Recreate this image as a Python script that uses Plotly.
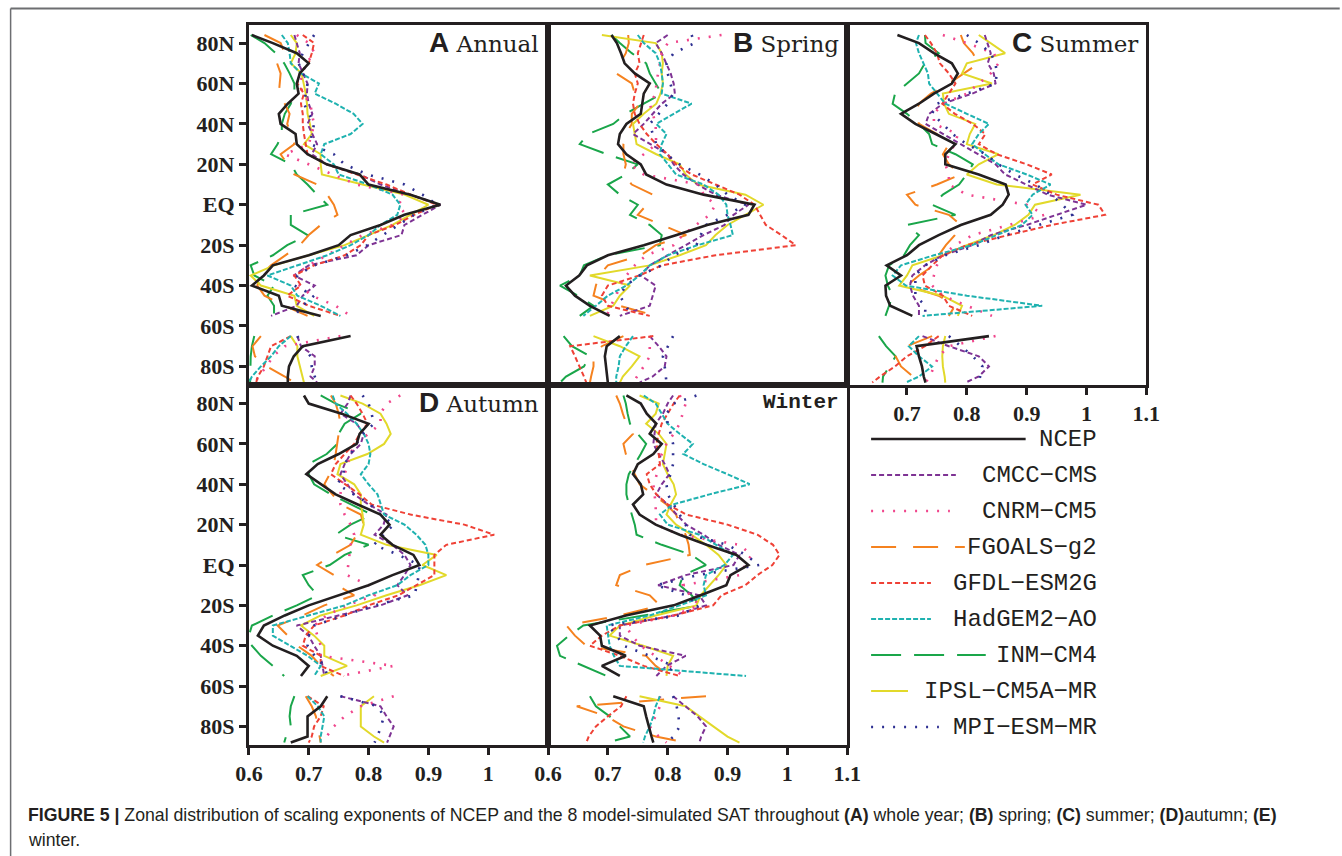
import plotly.graph_objects as go

# ---------------- data ----------------
# latitude grid (north segment 84N..55S, gap, south segment 65S..88S)
LATS = [84, 80, 75, 70, 65, 60, 55, 50, 45, 40, 35, 30, 25, 20, 15, 10, 5, 0,
        -5, -10, -15, -20, -25, -30, -35, -40, -45, -50, -55,
        -65, -70, -75, -80, -85, -88]
N_NORTH = 29

MODELS = ["NCEP", "CMCC\u2212CMS", "CNRM\u2212CM5", "FGOALS\u2212g2", "GFDL\u2212ESM2G",
          "HadGEM2\u2212AO", "INM\u2212CM4", "IPSL\u2212CM5A\u2212MR", "MPI\u2212ESM\u2212MR"]

Y_TICKS = [80, 60, 40, 20, 0, -20, -40, -60, -80]
Y_LABELS = ["80N", "60N", "40N", "20N", "EQ", "20S", "40S", "60S", "80S"]
X_TICKS = [0.6, 0.7, 0.8, 0.9, 1.0, 1.1]
X_LABELS = ["0.6", "0.7", "0.8", "0.9", "1", "1.1"]

# Panel A: Annual
A_NCEP = [0.605, 0.64, 0.68, 0.70, 0.685, 0.68, 0.683, 0.665, 0.65, 0.653, 0.678, 0.68, 0.698, 0.73, 0.785, 0.80, 0.87, 0.92, 0.86, 0.82, 0.77, 0.75, 0.70, 0.64, 0.625, 0.605, 0.65, 0.655, 0.72,
          0.77, 0.69, 0.675, 0.667, 0.665, 0.665]
A_CMCC = [0.676, 0.68, 0.685, 0.683, 0.69, 0.698, 0.697, 0.70, 0.706, 0.698, 0.706, 0.714, 0.705, 0.73, 0.785, 0.82, 0.87, 0.92, 0.89, 0.86, 0.855, 0.80, 0.78, 0.70, 0.675, 0.71, 0.69, 0.68, 0.637,
          0.681, 0.687, 0.71, 0.71, 0.703, 0.714]
A_CNRM = [0.68, 0.70, 0.71, 0.695, 0.69, 0.685, 0.69, 0.703, 0.705, 0.709, 0.705, 0.70, 0.66, 0.70, 0.74, 0.78, 0.86, 0.85, 0.862, 0.84, 0.79, 0.76, 0.73, 0.70, 0.676, 0.685, 0.705, 0.745, 0.77,
          0.753, 0.66, 0.64, 0.63, 0.615, 0.612]
A_FGOALS = [0.626, 0.653, 0.66, 0.647, 0.653, 0.652, 0.65, 0.66, 0.668, 0.664, 0.67, 0.676, 0.653, 0.665, 0.676, 0.714, 0.731, 0.742, 0.748, 0.72, 0.70, 0.685, 0.66, 0.637, 0.62, 0.614, 0.626, 0.66, 0.698,
            0.62, 0.606, 0.61, 0.63, 0.66, 0.676]
A_GFDL = [0.69, 0.709, 0.705, 0.70, 0.685, 0.681, 0.692, 0.687, 0.69, 0.69, 0.692, 0.695, 0.698, 0.73, 0.78, 0.83, 0.87, 0.915, 0.876, 0.845, 0.80, 0.787, 0.76, 0.709, 0.676, 0.687, 0.664, 0.70, 0.753,
          0.67, 0.637, 0.631, 0.625, 0.615, 0.612]
A_HADGEM = [0.655, 0.665, 0.668, 0.67, 0.687, 0.717, 0.71, 0.745, 0.775, 0.79, 0.77, 0.726, 0.72, 0.742, 0.75, 0.80, 0.84, 0.853, 0.848, 0.82, 0.80, 0.77, 0.731, 0.68, 0.631, 0.67, 0.681, 0.72, 0.753,
            0.67, 0.65, 0.637, 0.62, 0.605, 0.60]
A_INM = [0.603, 0.626, 0.645, 0.659, 0.668, 0.676, 0.676, 0.67, 0.66, 0.655, 0.655, 0.648, 0.637, 0.67, 0.68, 0.698, 0.714, 0.731, 0.67, 0.67, 0.698, 0.664, 0.64, 0.603, 0.609, 0.642, 0.631, 0.642, 0.642,
         0.609, 0.605, 0.603, 0.603, 0.602, 0.602]
A_IPSL = [0.67, 0.68, 0.678, 0.67, 0.688, 0.692, 0.695, 0.697, 0.698, 0.702, 0.705, 0.692, 0.72, 0.72, 0.722, 0.79, 0.86, 0.90, 0.87, 0.84, 0.80, 0.76, 0.70, 0.642, 0.603, 0.62, 0.676, 0.68, 0.709,
          0.67, 0.681, 0.681, 0.685, 0.69, 0.692]
A_MPI = [0.709, 0.70, 0.69, 0.683, 0.69, 0.698, 0.695, 0.692, 0.70, 0.709, 0.705, 0.703, 0.742, 0.76, 0.798, 0.86, 0.89, 0.915, 0.876, 0.85, 0.825, 0.798, 0.764, 0.709, 0.681, 0.676, 0.709, 0.69, 0.676,
         0.681, 0.69, 0.703, 0.705, 0.71, 0.714]

# Panel B: Spring
B_NCEP = [0.706, 0.715, 0.722, 0.728, 0.745, 0.77, 0.76, 0.758, 0.755, 0.731, 0.72, 0.717, 0.731, 0.755, 0.764, 0.798, 0.86, 0.945, 0.935, 0.866, 0.815, 0.76, 0.70, 0.665, 0.652, 0.63, 0.645, 0.67, 0.703,
          0.72, 0.698, 0.695, 0.697, 0.70, 0.70]
B_CMCC = [0.80, 0.78, 0.79, 0.798, 0.805, 0.81, 0.812, 0.79, 0.775, 0.76, 0.742, 0.77, 0.80, 0.81, 0.826, 0.85, 0.88, 0.935, 0.91, 0.895, 0.86, 0.83, 0.80, 0.77, 0.755, 0.78, 0.775, 0.77, 0.72,
          0.77, 0.785, 0.798, 0.795, 0.775, 0.753]
B_CNRM = [0.89, 0.80, 0.79, 0.787, 0.785, 0.781, 0.78, 0.77, 0.775, 0.78, 0.78, 0.781, 0.76, 0.737, 0.76, 0.853, 0.86, 0.88, 0.87, 0.848, 0.825, 0.81, 0.764, 0.745, 0.731, 0.72, 0.714, 0.705, 0.698,
          0.77, 0.77, 0.77, 0.76, 0.748, 0.742]
B_FGOALS = [0.734, 0.735, 0.73, 0.72, 0.714, 0.74, 0.745, 0.753, 0.74, 0.74, 0.73, 0.726, 0.726, 0.73, 0.726, 0.74, 0.775, 0.765, 0.75, 0.79, 0.831, 0.78, 0.755, 0.70, 0.685, 0.68, 0.676, 0.72, 0.781,
            0.726, 0.69, 0.676, 0.676, 0.672, 0.67]
B_GFDL = [0.76, 0.755, 0.75, 0.753, 0.745, 0.75, 0.745, 0.742, 0.745, 0.753, 0.765, 0.781, 0.80, 0.814, 0.84, 0.88, 0.92, 0.945, 0.955, 0.964, 0.99, 1.014, 0.88, 0.79, 0.753, 0.70, 0.69, 0.70, 0.77,
          0.776, 0.637, 0.645, 0.653, 0.66, 0.664]
B_HADGEM = [0.75, 0.76, 0.78, 0.787, 0.79, 0.792, 0.79, 0.84, 0.81, 0.781, 0.798, 0.79, 0.787, 0.80, 0.814, 0.86, 0.885, 0.898, 0.90, 0.905, 0.909, 0.85, 0.80, 0.77, 0.753, 0.731, 0.70, 0.68, 0.659,
            0.742, 0.73, 0.72, 0.718, 0.714, 0.714]
B_INM = [0.706, 0.72, 0.74, 0.764, 0.77, 0.78, 0.79, 0.76, 0.73, 0.709, 0.667, 0.653, 0.698, 0.75, 0.73, 0.70, 0.72, 0.75, 0.737, 0.77, 0.79, 0.787, 0.70, 0.66, 0.653, 0.62, 0.65, 0.676, 0.653,
         0.626, 0.64, 0.67, 0.66, 0.63, 0.62]
B_IPSL = [0.69, 0.78, 0.79, 0.792, 0.79, 0.792, 0.788, 0.781, 0.76, 0.742, 0.745, 0.748, 0.781, 0.82, 0.83, 0.85, 0.93, 0.96, 0.93, 0.90, 0.88, 0.864, 0.82, 0.77, 0.67, 0.737, 0.72, 0.709, 0.67,
          0.676, 0.72, 0.753, 0.74, 0.725, 0.72]
B_MPI = [0.84, 0.845, 0.81, 0.798, 0.80, 0.805, 0.809, 0.80, 0.785, 0.77, 0.775, 0.781, 0.798, 0.82, 0.853, 0.88, 0.90, 0.93, 0.90, 0.864, 0.855, 0.848, 0.81, 0.79, 0.753, 0.73, 0.72, 0.73, 0.74,
         0.809, 0.80, 0.792, 0.795, 0.797, 0.798]

# Panel C: Summer
C_NCEP = [0.684, 0.72, 0.745, 0.775, 0.785, 0.775, 0.745, 0.72, 0.69, 0.714, 0.748, 0.781, 0.764, 0.764, 0.82, 0.865, 0.87, 0.86, 0.84, 0.79, 0.753, 0.72, 0.70, 0.666, 0.69, 0.664, 0.665, 0.672, 0.709,
          0.837, 0.716, 0.72, 0.725, 0.728, 0.731]
C_CMCC = [0.83, 0.835, 0.84, 0.835, 0.845, 0.848, 0.809, 0.76, 0.737, 0.731, 0.76, 0.79, 0.82, 0.848, 0.864, 0.90, 0.935, 1.0, 0.95, 0.90, 0.84, 0.809, 0.76, 0.73, 0.709, 0.705, 0.71, 0.72, 0.72,
          0.726, 0.77, 0.82, 0.837, 0.82, 0.798]
C_CNRM = [0.76, 0.80, 0.845, 0.853, 0.84, 0.82, 0.80, 0.76, 0.745, 0.745, 0.785, 0.78, 0.77, 0.764, 0.77, 0.77, 0.80, 0.90, 0.93, 0.87, 0.81, 0.78, 0.76, 0.75, 0.745, 0.742, 0.76, 0.80, 0.842,
          0.848, 0.77, 0.753, 0.745, 0.738, 0.731]
C_FGOALS = [0.79, 0.795, 0.81, 0.82, 0.795, 0.77, 0.74, 0.72, 0.714, 0.72, 0.75, 0.77, 0.76, 0.77, 0.79, 0.75, 0.70, 0.714, 0.77, 0.79, 0.78, 0.765, 0.753, 0.745, 0.72, 0.70, 0.753, 0.78, 0.77,
            0.742, 0.70, 0.681, 0.69, 0.71, 0.72]
C_GFDL = [0.73, 0.74, 0.75, 0.755, 0.77, 0.781, 0.77, 0.759, 0.78, 0.81, 0.831, 0.82, 0.85, 0.90, 0.942, 0.91, 0.95, 1.02, 1.031, 0.942, 0.87, 0.80, 0.76, 0.742, 0.726, 0.73, 0.76, 0.77, 0.809,
          0.753, 0.73, 0.70, 0.68, 0.655, 0.642]
C_HADGEM = [0.72, 0.715, 0.72, 0.728, 0.735, 0.737, 0.75, 0.764, 0.80, 0.837, 0.82, 0.809, 0.83, 0.853, 0.90, 0.94, 0.91, 0.898, 0.91, 0.892, 0.85, 0.809, 0.745, 0.69, 0.676, 0.698, 0.80, 0.926, 0.726,
            0.72, 0.703, 0.72, 0.742, 0.72, 0.698]
C_INM = [0.73, 0.731, 0.753, 0.73, 0.72, 0.70, 0.68, 0.676, 0.70, 0.72, 0.737, 0.742, 0.781, 0.81, 0.80, 0.787, 0.76, 0.742, 0.781, 0.70, 0.72, 0.705, 0.695, 0.67, 0.664, 0.668, 0.676, 0.67, 0.664,
         0.653, 0.665, 0.681, 0.67, 0.66, 0.659]
C_IPSL = [0.82, 0.84, 0.864, 0.80, 0.792, 0.842, 0.76, 0.762, 0.77, 0.814, 0.805, 0.80, 0.853, 0.82, 0.80, 0.85, 0.99, 0.914, 0.903, 0.88, 0.845, 0.80, 0.76, 0.709, 0.70, 0.687, 0.759, 0.792, 0.785,
          0.764, 0.76, 0.759, 0.76, 0.763, 0.764]
C_MPI = [0.80, 0.82, 0.84, 0.848, 0.85, 0.848, 0.80, 0.75, 0.742, 0.76, 0.776, 0.80, 0.831, 0.853, 0.88, 0.915, 0.94, 0.96, 0.976, 0.92, 0.865, 0.82, 0.764, 0.73, 0.714, 0.714, 0.714, 0.731, 0.73,
         0.77, 0.79, 0.81, 0.826, 0.822, 0.82]

# Panel D: Autumn
D_NCEP = [0.692, 0.70, 0.755, 0.80, 0.785, 0.78, 0.75, 0.715, 0.696, 0.72, 0.745, 0.782, 0.82, 0.835, 0.82, 0.84, 0.875, 0.885, 0.84, 0.80, 0.75, 0.70, 0.66, 0.625, 0.615, 0.64, 0.68, 0.70, 0.687,
          0.731, 0.72, 0.698, 0.698, 0.698, 0.67]
D_CMCC = [0.77, 0.765, 0.753, 0.78, 0.792, 0.787, 0.77, 0.76, 0.753, 0.765, 0.776, 0.80, 0.83, 0.825, 0.81, 0.84, 0.86, 0.87, 0.86, 0.848, 0.865, 0.82, 0.75, 0.68, 0.70, 0.709, 0.72, 0.723, 0.726,
          0.753, 0.82, 0.83, 0.842, 0.835, 0.831]
D_CNRM = [0.853, 0.83, 0.82, 0.82, 0.80, 0.776, 0.77, 0.765, 0.76, 0.755, 0.753, 0.753, 0.76, 0.77, 0.776, 0.77, 0.768, 0.766, 0.764, 0.80, 0.81, 0.764, 0.73, 0.709, 0.715, 0.72, 0.72, 0.842, 0.753,
          0.842, 0.787, 0.76, 0.742, 0.73, 0.726]
D_FGOALS = [0.737, 0.745, 0.75, 0.753, 0.75, 0.748, 0.745, 0.742, 0.735, 0.726, 0.74, 0.753, 0.787, 0.792, 0.78, 0.77, 0.74, 0.714, 0.742, 0.748, 0.776, 0.726, 0.69, 0.648, 0.665, 0.681, 0.705, 0.72, 0.742,
            0.695, 0.705, 0.712, 0.715, 0.718, 0.72]
D_GFDL = [0.77, 0.78, 0.79, 0.798, 0.785, 0.776, 0.76, 0.745, 0.737, 0.76, 0.785, 0.805, 0.87, 0.96, 1.01, 0.93, 0.91, 0.91, 0.91, 0.88, 0.85, 0.80, 0.76, 0.709, 0.695, 0.69, 0.72, 0.72, 0.759,
          0.698, 0.725, 0.72, 0.709, 0.705, 0.70]
D_HADGEM = [0.74, 0.745, 0.764, 0.78, 0.792, 0.80, 0.803, 0.80, 0.787, 0.80, 0.815, 0.82, 0.826, 0.86, 0.88, 0.895, 0.90, 0.90, 0.87, 0.848, 0.80, 0.76, 0.70, 0.64, 0.64, 0.67, 0.698, 0.72, 0.709,
            0.698, 0.715, 0.726, 0.723, 0.72, 0.72]
D_INM = [0.72, 0.745, 0.787, 0.76, 0.75, 0.748, 0.73, 0.70, 0.70, 0.709, 0.737, 0.77, 0.805, 0.77, 0.745, 0.80, 0.76, 0.735, 0.69, 0.70, 0.715, 0.68, 0.64, 0.605, 0.60, 0.605, 0.62, 0.64, 0.659,
         0.676, 0.67, 0.668, 0.67, 0.662, 0.659]
D_IPSL = [0.753, 0.79, 0.82, 0.83, 0.837, 0.826, 0.798, 0.753, 0.748, 0.776, 0.787, 0.787, 0.79, 0.792, 0.787, 0.83, 0.914, 0.89, 0.93, 0.885, 0.83, 0.78, 0.72, 0.687, 0.709, 0.726, 0.726, 0.764, 0.72,
          0.809, 0.787, 0.787, 0.787, 0.809, 0.826]
D_MPI = [0.79, 0.80, 0.805, 0.809, 0.79, 0.78, 0.77, 0.76, 0.758, 0.748, 0.775, 0.803, 0.82, 0.842, 0.825, 0.809, 0.85, 0.885, 0.884, 0.881, 0.877, 0.81, 0.76, 0.709, 0.70, 0.698, 0.71, 0.726, 0.731,
         0.753, 0.815, 0.826, 0.82, 0.815, 0.81]

# Panel E: Winter
E_NCEP = [0.731, 0.755, 0.765, 0.781, 0.77, 0.79, 0.776, 0.75, 0.742, 0.755, 0.759, 0.742, 0.753, 0.78, 0.82, 0.865, 0.915, 0.935, 0.905, 0.898, 0.855, 0.81, 0.73, 0.67, 0.687, 0.69, 0.73, 0.69, 0.72,
          0.709, 0.76, 0.764, 0.768, 0.773, 0.776]
E_CMCC = [0.809, 0.80, 0.792, 0.78, 0.778, 0.776, 0.785, 0.795, 0.803, 0.79, 0.781, 0.80, 0.815, 0.831, 0.86, 0.885, 0.92, 0.91, 0.83, 0.784, 0.853, 0.864, 0.81, 0.72, 0.72, 0.753, 0.83, 0.798, 0.781,
          0.809, 0.83, 0.85, 0.864, 0.856, 0.853]
E_CNRM = [0.82, 0.83, 0.825, 0.82, 0.81, 0.798, 0.79, 0.787, 0.782, 0.776, 0.778, 0.78, 0.78, 0.781, 0.82, 0.92, 0.94, 0.93, 0.92, 0.826, 0.837, 0.853, 0.81, 0.73, 0.74, 0.755, 0.78, 0.803, 0.826,
          0.787, 0.787, 0.78, 0.77, 0.785, 0.798]
E_FGOALS = [0.714, 0.72, 0.725, 0.731, 0.742, 0.726, 0.73, 0.737, 0.745, 0.753, 0.775, 0.798, 0.814, 0.82, 0.83, 0.835, 0.837, 0.76, 0.72, 0.714, 0.77, 0.787, 0.72, 0.631, 0.645, 0.664, 0.764, 0.78, 0.803,
            0.864, 0.648, 0.698, 0.726, 0.78, 0.831]
E_GFDL = [0.82, 0.81, 0.80, 0.79, 0.785, 0.781, 0.785, 0.787, 0.765, 0.77, 0.781, 0.80, 0.831, 0.90, 0.95, 0.976, 0.987, 0.975, 0.95, 0.93, 0.89, 0.876, 0.81, 0.72, 0.69, 0.67, 0.72, 0.76, 0.82,
          0.731, 0.722, 0.70, 0.68, 0.668, 0.664]
E_HADGEM = [0.76, 0.78, 0.79, 0.80, 0.82, 0.842, 0.826, 0.86, 0.90, 0.937, 0.87, 0.809, 0.787, 0.80, 0.853, 0.88, 0.909, 0.895, 0.864, 0.86, 0.864, 0.82, 0.77, 0.698, 0.70, 0.703, 0.71, 0.72, 0.931,
            0.787, 0.78, 0.776, 0.77, 0.762, 0.759]
E_INM = [0.726, 0.73, 0.733, 0.737, 0.75, 0.764, 0.755, 0.745, 0.735, 0.731, 0.731, 0.735, 0.74, 0.745, 0.748, 0.79, 0.84, 0.864, 0.826, 0.82, 0.84, 0.853, 0.76, 0.659, 0.635, 0.615, 0.62, 0.66, 0.698,
         0.67, 0.68, 0.703, 0.72, 0.737, 0.698]
E_IPSL = [0.753, 0.785, 0.78, 0.764, 0.785, 0.798, 0.795, 0.792, 0.80, 0.81, 0.814, 0.805, 0.798, 0.814, 0.84, 0.864, 0.885, 0.898, 0.885, 0.87, 0.855, 0.848, 0.78, 0.72, 0.703, 0.759, 0.809, 0.80, 0.798,
          0.753, 0.83, 0.853, 0.876, 0.90, 0.92]
E_MPI = [0.848, 0.81, 0.798, 0.80, 0.805, 0.809, 0.809, 0.809, 0.805, 0.798, 0.80, 0.81, 0.82, 0.83, 0.837, 0.90, 0.93, 0.953, 0.85, 0.781, 0.83, 0.853, 0.82, 0.70, 0.715, 0.726, 0.77, 0.809, 0.798,
         0.809, 0.815, 0.818, 0.82, 0.81, 0.798]

PANEL_DATA = {
    "A": [A_NCEP, A_CMCC, A_CNRM, A_FGOALS, A_GFDL, A_HADGEM, A_INM, A_IPSL, A_MPI],
    "B": [B_NCEP, B_CMCC, B_CNRM, B_FGOALS, B_GFDL, B_HADGEM, B_INM, B_IPSL, B_MPI],
    "C": [C_NCEP, C_CMCC, C_CNRM, C_FGOALS, C_GFDL, C_HADGEM, C_INM, C_IPSL, C_MPI],
    "D": [D_NCEP, D_CMCC, D_CNRM, D_FGOALS, D_GFDL, D_HADGEM, D_INM, D_IPSL, D_MPI],
    "E": [E_NCEP, E_CMCC, E_CNRM, E_FGOALS, E_GFDL, E_HADGEM, E_INM, E_IPSL, E_MPI],
}

# ---------------- styles ----------------
INK = "#231f20"
STYLES = [
    dict(color=INK, width=2.6, dash="solid"),          # NCEP
    dict(color="#7e3394", width=2.0, dash="5px,3px"),  # CMCC
    dict(color="#f0468c", width=2.6, dash="2px,9px"),  # CNRM
    dict(color="#f5821f", width=2.0, dash="25px,17px"),# FGOALS
    dict(color="#ef4136", width=2.0, dash="5px,3px"),  # GFDL
    dict(color="#1fb2b0", width=2.0, dash="5px,2px"),  # HadGEM
    dict(color="#1aa64a", width=2.0, dash="30px,13px"),# INM
    dict(color="#e2d92a", width=2.0, dash="solid"),    # IPSL
    dict(color="#2e3092", width=2.6, dash="2px,9px"),  # MPI
]
DRAW_ORDER = [6, 3, 7, 1, 2, 4, 5, 8, 0]

W, H = 1342, 856
# horizontal calibration measured from a previous render of this page
SX, OX = 0.982, 12.4
def px(x): return ((x - OX) / SX) / W
def py(y): return 1 - y / H

PANELS = {
    # name: (x0, x1, y_top, y_bottom, show_left, bottom_ticks)
    "A": (248, 548, 24.5, 385, True, None),
    "B": (548, 848, 24.5, 385, False, None),
    "C": (848, 1148, 24.5, 385, False, [0.7, 0.8, 0.9, 1.0, 1.1]),
    "D": (248, 548, 385, 745, True, [0.6, 0.7, 0.8, 0.9, 1.0]),
    "E": (548, 848, 385, 745, False, [0.6, 0.7, 0.8, 0.9, 1.0, 1.1]),
}

fig = go.Figure()
tick_font = dict(family="Liberation Serif", size=22, color=INK, weight="bold")

def with_gap(vals):
    return vals[:N_NORTH] + [None] + vals[N_NORTH:]

lat_gap = with_gap(LATS)

for i, (name, (x0, x1, yt, yb, show_left, bticks)) in enumerate(PANELS.items()):
    idx = "" if i == 0 else str(i + 1)
    xa, ya = "x" + idx, "y" + idx
    for k in DRAW_ORDER:
        st = STYLES[k]
        fig.add_trace(go.Scatter(
            x=with_gap(PANEL_DATA[name][k]), y=lat_gap, xaxis=xa, yaxis=ya,
            mode="lines", line=dict(color=st["color"], width=st["width"], dash=st["dash"]),
            connectgaps=False, showlegend=False, hoverinfo="skip"))
    xkw = dict(domain=[px(x0), px(x1)], range=[0.6, 1.1], anchor=ya,
               showline=True, linewidth=3, linecolor=INK, mirror=True,
               showgrid=False, zeroline=False, tickfont=tick_font)
    if bticks:
        xkw.update(tickmode="array", tickvals=bticks,
                   ticktext=[X_LABELS[X_TICKS.index(t)] for t in bticks],
                   ticks="outside", ticklen=7, tickwidth=2.5, tickcolor=INK)
    else:
        xkw.update(showticklabels=False, ticks="")
    ykw = dict(domain=[py(yb), py(yt)], range=[-89.2, 89.2], anchor=xa,
               showline=True, linewidth=3, linecolor=INK, mirror=True,
               showgrid=False, zeroline=False, tickfont=tick_font)
    if show_left:
        ykw.update(tickmode="array", tickvals=Y_TICKS, ticktext=Y_LABELS,
                   ticks="outside", ticklen=7, tickwidth=2.5, tickcolor=INK)
    else:
        ykw.update(showticklabels=False, ticks="")
    fig.layout["xaxis" + idx] = xkw
    fig.layout["yaxis" + idx] = ykw

annotations = []
TITLES = {
    "A": (541, 42, "Annual"),
    "B": (842, 42, "Spring"),
    "C": (1142, 42, "Summer"),
    "D": (541, 403, "Autumn"),
}
for letter, (xr, yc, word) in TITLES.items():
    annotations.append(dict(
        xref="paper", yref="paper", x=px(xr), y=py(yc), xanchor="right", yanchor="middle",
        showarrow=False,
        text=('<span style="font-family:Liberation Sans;font-size:28px;font-weight:bold">'
              + letter + '</span> ' + word),
        font=dict(family="DejaVu Serif", size=23, color=INK)))
annotations.append(dict(
    xref="paper", yref="paper", x=px(842), y=py(403), xanchor="right", yanchor="middle",
    showarrow=False, text="Winter",
    font=dict(family="Liberation Mono", size=21, color=INK, weight="bold")))

# legend (drawn manually, right-aligned text)
LEG_Y = [439, 475, 511, 547, 583, 619, 655, 691, 727]
LEG_END = [1027, 957, 951, 966, 932, 932, 987, 909, 940]
shapes = []
for k, name in enumerate(MODELS):
    st = STYLES[k]
    shapes.append(dict(type="line", xref="paper", yref="paper",
                       x0=px(872), x1=px(LEG_END[k]), y0=py(LEG_Y[k]), y1=py(LEG_Y[k]),
                       line=dict(color=st["color"], width=st["width"], dash=st["dash"])))
    annotations.append(dict(xref="paper", yref="paper", x=px(1101), y=py(LEG_Y[k]),
                            xanchor="right", yanchor="middle", showarrow=False, text=name,
                            font=dict(family="Liberation Mono", size=24, color=INK)))

# outer frame lines
shapes.append(dict(type="line", xref="paper", yref="paper", x0=px(9), x1=px(1342), y0=py(8.5), y1=py(8.5),
                   line=dict(color="#6d6e71", width=2)))
shapes.append(dict(type="line", xref="paper", yref="paper", x0=px(9), x1=px(9), y0=py(8.5), y1=0,
                   line=dict(color="#6d6e71", width=1.5)))

# caption
annotations.append(dict(
    xref="paper", yref="paper", x=px(24), y=py(815), xanchor="left", yanchor="middle",
    showarrow=False, align="left",
    text=("<b>FIGURE 5 |</b> Zonal distribution of scaling exponents of NCEP and the 8 model-simulated "
          "SAT throughout <b>(A)</b> whole year; <b>(B)</b> spring; <b>(C)</b> summer; "
          "<b>(D)</b>autumn; <b>(E)</b>"),
    font=dict(family="Liberation Sans", size=17.7, color=INK)))
annotations.append(dict(
    xref="paper", yref="paper", x=px(24), y=py(840), xanchor="left", yanchor="middle",
    showarrow=False, align="left", text="winter.",
    font=dict(family="Liberation Sans", size=17.7, color=INK)))

fig.update_layout(
    width=W, height=H, margin=dict(l=0, r=0, t=0, b=0),
    paper_bgcolor="white", plot_bgcolor="white",
    showlegend=False, annotations=annotations, shapes=shapes)

fig.write_html("out.html")
